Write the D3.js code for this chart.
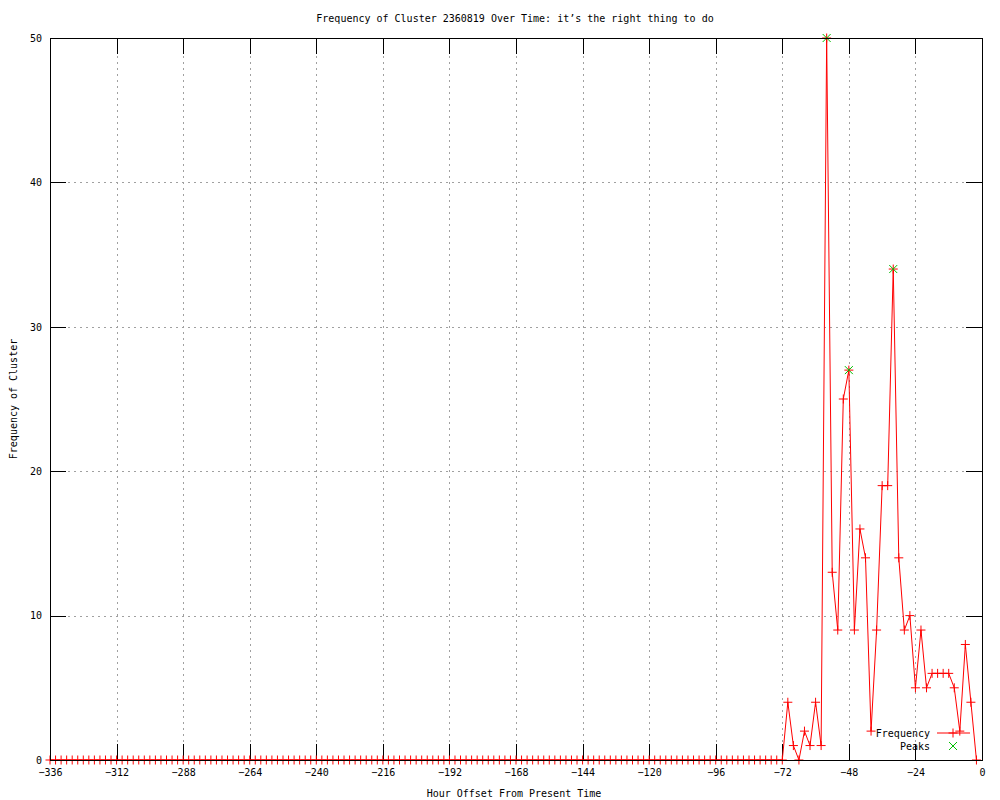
<!DOCTYPE html>
<html>
<head>
<meta charset="utf-8">
<script src="https://cdn.jsdelivr.net/npm/d3@7"></script>
<style>
  body { margin: 0; background: #fff; }
  text { font-family: "DejaVu Sans Mono", monospace; font-size: 10px; fill: #000; }
</style>
</head>
<body>
<div id="chart"></div>
<script>
"use strict";

// sampling: every 2 hours from -336 up to -2
let startHour = -336;
let stepHours = 2;

// frequency per sample (-336 ... -72 are all zero)
let frequency = [
 0,0,0,0,0,0,0,0,0,0,0,0,0,0,0,0,0,0,0,
 0,0,0,0,0,0,0,0,0,0,0,0,0,0,0,0,0,0,0,
 0,0,0,0,0,0,0,0,0,0,0,0,0,0,0,0,0,0,0,
 0,0,0,0,0,0,0,0,0,0,0,0,0,0,0,0,0,0,0,
 0,0,0,0,0,0,0,0,0,0,0,0,0,0,0,0,0,0,0,
 0,0,0,0,0,0,0,0,0,0,0,0,0,0,0,0,0,0,0,
 0,0,0,0,0,0,0,0,0,0,0,0,0,0,0,0,0,0,0,
 4,1,0,2,1,4,1,50,13,9,25,27,9,16,14,2,9,19,19,34,14,9,10,5,9,5,6,6,6,6,5,2,8,4,0
];

let peakHours = [-56, -48, -32];
let peakValues = [50, 27, 34];

let xTicks = [-336,-312,-288,-264,-240,-216,-192,-168,-144,-120,-96,-72,-48,-24,0];
let yTicks = [0,10,20,30,40,50];

let titleText = "Frequency of Cluster 2360819 Over Time: it\u2019s the right thing to do";

let series = frequency.map(function(v, i){
  return {hour: startHour + i*stepHours, value: v};
});
let peaks = peakHours.map(function(h, i){
  return {hour: h, value: peakValues[i]};
});

let W = 1000, H = 800;
let plotLeft = 50, plotRight = 982, plotTop = 38, plotBottom = 760;

let svg = d3.select("#chart")
.append("svg")
.attr("width", W)
.attr("height", H);

let xScale = d3.scaleLinear().domain([-336, 0]).range([plotLeft, plotRight]);
let yScale = d3.scaleLinear().domain([0, 50]).range([plotBottom, plotTop]);

// grid
svg.append("g")
.attr("transform", "translate(0," + plotBottom + ")")
.call(d3.axisBottom(xScale).tickValues(xTicks.slice(1, -1)).tickSize(-(plotBottom-plotTop)).tickFormat(""))
.call(function(g){ g.select(".domain").remove(); })
.selectAll("line")
.attr("stroke", "#a0a0a0")
.attr("stroke-dasharray", "2,4")
.attr("shape-rendering", "crispEdges");

svg.append("g")
.attr("transform", "translate(" + plotLeft + ",0)")
.call(d3.axisLeft(yScale).tickValues(yTicks.slice(1, -1)).tickSize(-(plotRight-plotLeft)).tickFormat(""))
.call(function(g){ g.select(".domain").remove(); })
.selectAll("line")
.attr("stroke", "#a0a0a0")
.attr("stroke-dasharray", "2,4")
.attr("shape-rendering", "crispEdges");

// axes with inward ticks
function styleAxis(g){
  g.select(".domain").remove();
  g.selectAll("line").attr("stroke", "#000").attr("shape-rendering", "crispEdges");
  g.selectAll("text").style("font-family", "DejaVu Sans Mono, monospace").style("font-size", "10px");
}

svg.append("g")
.attr("transform", "translate(0," + plotBottom + ")")
.call(d3.axisBottom(xScale).tickValues(xTicks).tickSizeInner(-16).tickSizeOuter(0).tickFormat(d3.format("d")))
.call(styleAxis)
.selectAll("text").attr("y", 9);

svg.append("g")
.attr("transform", "translate(0," + plotTop + ")")
.call(d3.axisTop(xScale).tickValues(xTicks).tickSizeInner(-16).tickSizeOuter(0).tickFormat(""))
.call(styleAxis);

svg.append("g")
.attr("transform", "translate(" + plotLeft + ",0)")
.call(d3.axisLeft(yScale).tickValues(yTicks).tickSizeInner(-16).tickSizeOuter(0).tickFormat(d3.format("d")))
.call(styleAxis)
.selectAll("text").attr("x", -8);

svg.append("g")
.attr("transform", "translate(" + plotRight + ",0)")
.call(d3.axisRight(yScale).tickValues(yTicks).tickSizeInner(-16).tickSizeOuter(0).tickFormat(""))
.call(styleAxis);

// frequency line
let line = d3.line()
.x(function(d){ return xScale(d.hour); })
.y(function(d){ return yScale(d.value); });

svg.append("path")
.datum(series)
.attr("d", line)
.attr("fill", "none")
.attr("stroke", "#ff0000")
.attr("stroke-width", 1);

// plus markers
svg.selectAll(".pt")
.data(series)
.join("path")
.attr("class", "pt")
.attr("d", function(d){
  let x = xScale(d.hour), y = yScale(d.value);
  return "M" + (x-4.5) + "," + y + "H" + (x+4.5) + "M" + x + "," + (y-4.5) + "V" + (y+4.5);
})
.attr("stroke", "#ff0000")
.attr("stroke-width", 1)
.attr("fill", "none");

// peak markers (x)
svg.selectAll(".peak")
.data(peaks)
.join("path")
.attr("class", "peak")
.attr("d", function(d){
  let x = xScale(d.hour), y = yScale(d.value);
  return "M" + (x-4) + "," + (y-4) + "L" + (x+4) + "," + (y+4) + "M" + (x-4) + "," + (y+4) + "L" + (x+4) + "," + (y-4);
})
.attr("stroke", "#00c000")
.attr("stroke-width", 1)
.attr("fill", "none");

// border
svg.append("rect")
.attr("x", plotLeft)
.attr("y", plotTop)
.attr("width", plotRight-plotLeft)
.attr("height", plotBottom-plotTop)
.attr("fill", "none")
.attr("stroke", "#000")
.attr("stroke-width", 1)
.attr("shape-rendering", "crispEdges");

// title and labels
svg.append("text")
.attr("x", 515)
.attr("y", 22)
.attr("text-anchor", "middle")
.text(titleText);

svg.append("text")
.attr("x", 514)
.attr("y", 797)
.attr("text-anchor", "middle")
.text("Hour Offset From Present Time");

svg.append("text")
.attr("transform", "rotate(-90)")
.attr("x", -399)
.attr("y", 17)
.attr("text-anchor", "middle")
.text("Frequency of Cluster");

// legend
svg.append("text")
.attr("x", 930)
.attr("y", 737)
.attr("text-anchor", "end")
.text("Frequency");

svg.append("line")
.attr("x1", 937).attr("x2", 970)
.attr("y1", 733).attr("y2", 733)
.attr("stroke", "#ff0000");

svg.append("path")
.attr("d", "M948.5,733H957.5M953,728.5V737.5")
.attr("stroke", "#ff0000")
.attr("fill", "none");

svg.append("text")
.attr("x", 930)
.attr("y", 750)
.attr("text-anchor", "end")
.text("Peaks");

svg.append("path")
.attr("d", "M949,742L957,750M949,750L957,742")
.attr("stroke", "#00c000")
.attr("fill", "none");
</script>
</body>
</html>
